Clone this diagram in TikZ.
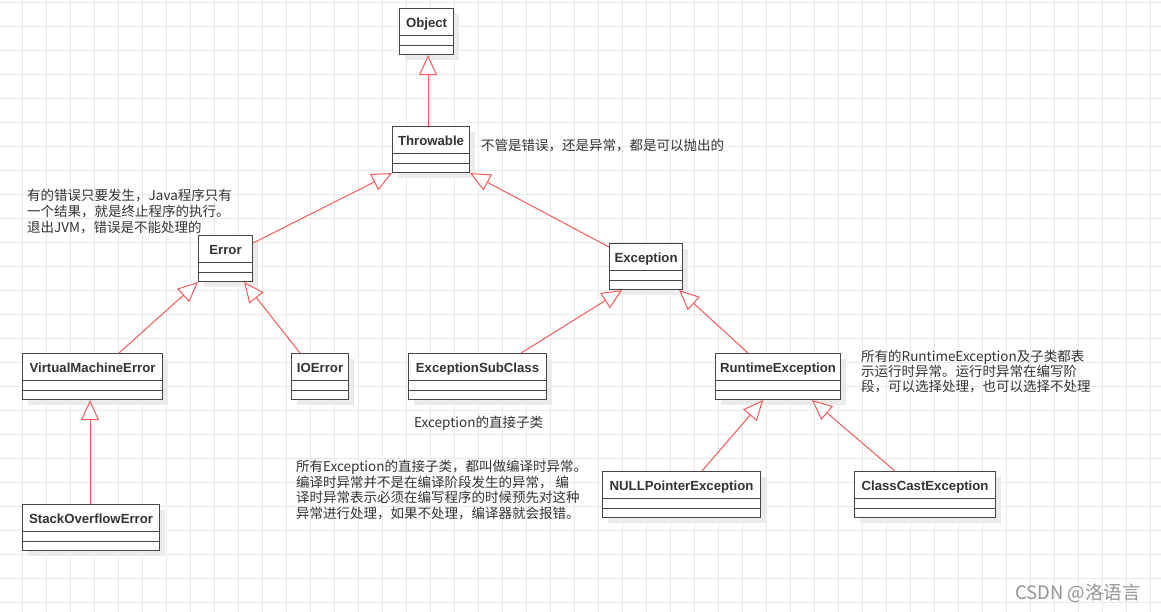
\documentclass[tikz,border=0pt]{standalone}
\usepackage{fontspec}
\setmainfont{Liberation Sans}
\newfontfamily\cjk{Noto Sans CJK SC}
\usetikzlibrary{arrows.meta,shadows}
\definecolor{umlred}{RGB}{245,90,90}
\definecolor{umltext}{RGB}{51,51,51}
\definecolor{umlline}{RGB}{70,70,70}
\definecolor{gridgray}{RGB}{234,234,234}

\begin{document}
\begin{tikzpicture}[
  x=1pt, y=-1pt,
  >={Triangle[length=20pt,width=18pt,fill=white]},
  gridline/.style={draw=gridgray, line width=0.8pt},
  umlclass/.style={draw=umlline, fill=white, line width=1.1pt, anchor=north west,
    minimum height=46pt, inner xsep=0pt, inner ysep=0pt,
    text height=19pt, text depth=27pt, text=umltext,
    font=\bfseries\fontsize{13.2}{15}\selectfont,
    drop shadow={shadow xshift=5pt, shadow yshift=-5pt, fill=black!8, opacity=1},
    path picture={
      \draw[umlline, line width=1.1pt]
        ([yshift=-27pt]path picture bounding box.north west) -- ([yshift=-27pt]path picture bounding box.north east)
        ([yshift=-37pt]path picture bounding box.north west) -- ([yshift=-37pt]path picture bounding box.north east);}},
  note/.style={anchor=west, inner sep=0pt, align=left, text=umltext,
    font=\cjk\fontsize{13.5}{16}\selectfont},
  inherit/.style={->, draw=umlred, line width=1pt},
  ]
  \useasboundingbox[fill=white] (0,0) rectangle (1161,612);
  
  % background grid
  \foreach \gx in {-2,22,...,1174} \draw[gridline] (\gx,0) -- (\gx,612);
  \foreach \gy in {2,26,...,614} \draw[gridline] (0,\gy) -- (1161,\gy);
  
  \node[umlclass, minimum width=54pt] (obj) at (399,8) {Object};
  \node[umlclass, minimum width=77pt] (thr) at (392,126) {Throwable};
  \node[umlclass, minimum width=54pt] (err) at (198,235) {Error};
  \node[umlclass, minimum width=73pt] (exc) at (609,243) {Exception};
  \node[umlclass, minimum width=140pt] (vme) at (22,353) {VirtualMachineError};
  \node[umlclass, minimum width=57pt] (ioe) at (291,353) {IOError};
  \node[umlclass, minimum width=137pt] (soe) at (22,504) {StackOverflowError};
  \node[umlclass, minimum width=138pt] (esc) at (408,353) {ExceptionSubClass};
  \node[umlclass, minimum width=125pt] (rte) at (715,353) {RuntimeException};
  \node[umlclass, minimum width=158pt] (npe) at (602,471) {NULLPointerException};
  \node[umlclass, minimum width=141pt] (cce) at (854,471) {ClassCastException};
  
  \node[note] (thrnote) at (481,146) {不管是错误，还是异常，都是可以抛出的};
  \node[note] (errnote) at (27,212) {有的错误只要发生，Java程序只有\\一个结果，就是终止程序的执行。\\退出JVM，错误是不能处理的};
  \node[note] (escnote) at (414,423) {Exception的直接子类};
  \node[note, font=\cjk\fontsize{13.5}{15.5}\selectfont] (chknote) at (296,490) {所有Exception的直接子类，都叫做编译时异常。\\编译时异常并不是在编译阶段发生的异常， 编\\译时异常表示必须在编写程序的时候预先对这种\\异常进行处理，如果不处理，编译器就会报错。};
  \node[note, font=\cjk\fontsize{13.5}{15}\selectfont] (rtenote) at (861,372) {所有的RuntimeException及子类都表\\示运行时异常。运行时异常在编写阶\\段，可以选择处理，也可以选择不处理};
  \node[anchor=west, inner sep=0pt, text=black!42, font=\cjk\fontsize{18.5}{20}\selectfont] (mark) at (1015,593) {CSDN @洛语言};
  
  \draw[inherit] ([xshift=-3pt]thr.north) -- ([xshift=-3pt]thr.north |- obj.south);
  \draw[inherit] ([yshift=-8pt]err.north east) -- (thr.south west);
  \draw[inherit] ([yshift=-4pt]exc.north west) -- (thr.south east);
  \draw[inherit] ([xshift=97pt]vme.north west) -- (err.south west);
  \draw[inherit] ([xshift=9pt]ioe.north west) -- ([xshift=-9pt]err.south east);
  \draw[inherit] ([xshift=68pt]soe.north west) -- ([xshift=68pt]vme.south west);
  \draw[inherit] ([xshift=-26pt]esc.north east) -- ([xshift=13pt]exc.south west);
  \draw[inherit] ([xshift=33pt]rte.north west) -- ([xshift=-4pt]exc.south east);
  \draw[inherit] ([xshift=100pt]npe.north west) -- ([xshift=48pt]rte.south west);
  \draw[inherit] ([xshift=41pt]cce.north west) -- ([xshift=97pt]rte.south west);
  
\end{tikzpicture}
\end{document}
